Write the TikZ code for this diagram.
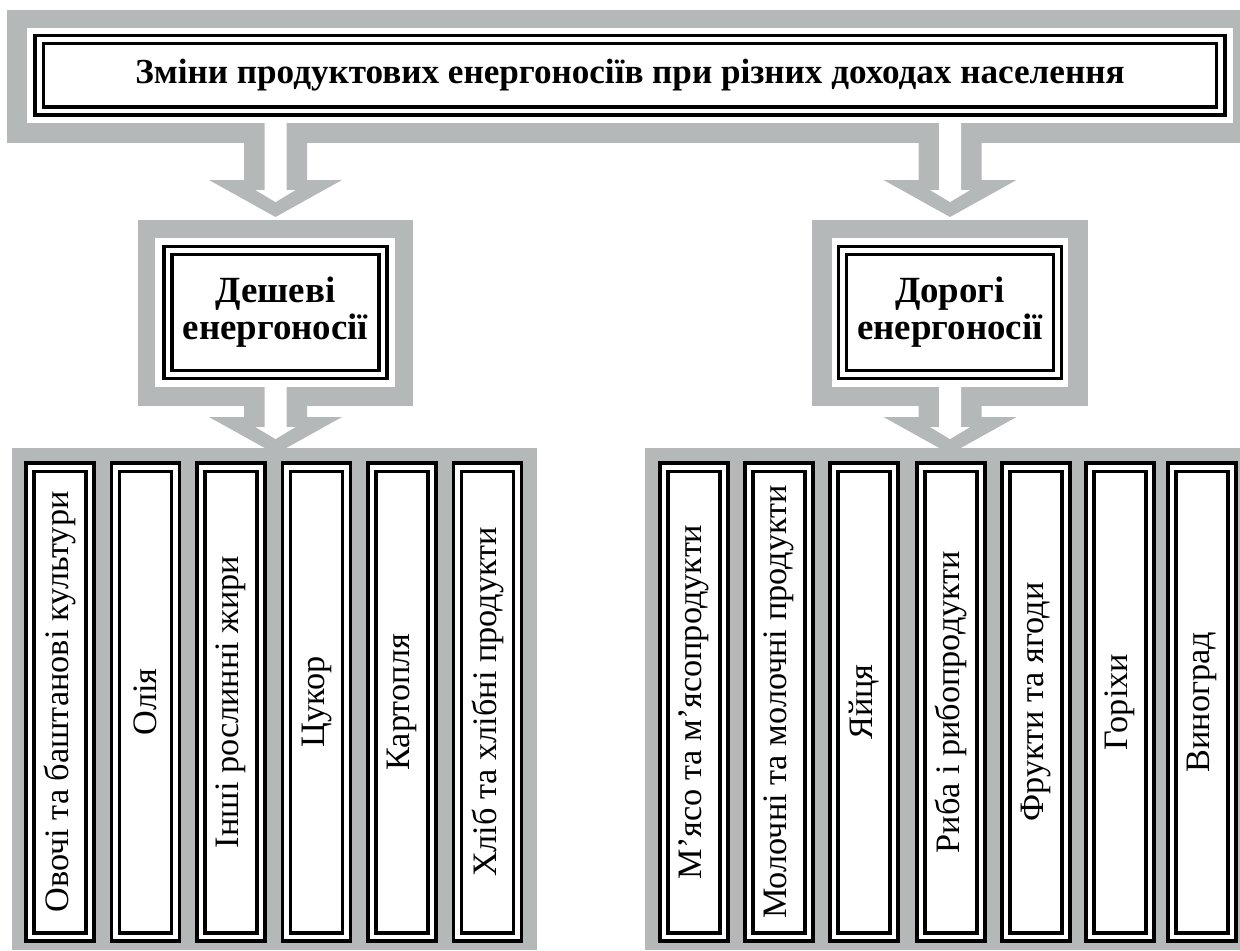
\documentclass[tikz,border=0pt]{standalone}
\usepackage{fontspec}
\setmainfont{Liberation Serif}
\usepackage{tikz}
\usetikzlibrary{backgrounds}
\definecolor{framegray}{RGB}{181,184,184}
\tikzset{
  dbl/.style={draw, fill=white, line width=1.9pt, double=white, double distance=2.8pt, inner sep=0pt},
  headbox/.style={dbl, minimum width=23.64cm, minimum height=1.43cm, font=\fontsize{20}{22}\selectfont\bfseries},
  groupbox/.style={dbl, minimum width=4.3cm, minimum height=2.48cm, align=center, font=\fontsize{21}{21}\selectfont\bfseries},
  itembox/.style={dbl, rotate=90, minimum width=9.4cm, minimum height=1.2cm, font=\fontsize{19.5}{22}\selectfont},
  fatarrow/.pic={
    \fill[framegray] (-31.5,0) -- (-31.5,#1) -- (-66.5,#1) -- (0,#1+37) -- (66.5,#1) -- (31.5,#1) -- (31.5,0) -- cycle;
    \fill[white] (-11,-20) -- (-11,#1+10) -- (-20,#1+10) -- (0,#1+22) -- (20,#1+10) -- (11,#1+10) -- (11,-20) -- cycle;
  }
}
\begin{document}
\begin{tikzpicture}[x=0.02cm, y=-0.02cm]
\useasboundingbox (0,0) rectangle (1240,950);

\node[headbox] (title) at (630,75.25) {Зміни продуктових енергоносіїв при різних доходах населення};

\node[groupbox] (cheap) at (275.5,312.5) {Дешеві\\енергоносії};
\node[groupbox] (dear) at (950,312.5) {Дорогі\\енергоносії};

% cheap products
\node[itembox] (veg) at (60,702) {Овочі та баштанові культури};
\node[itembox] (oil) at (145.5,702) {Олія};
\node[itembox] (fat) at (231,702) {Інші рослинні жири};
\node[itembox] (sugar) at (316.5,702) {Цукор};
\node[itembox] (potato) at (402,702) {Картопля};
\node[itembox] (bread) at (487.5,702) {Хліб та хлібні продукти};

% dear products
\node[itembox] (meat) at (694,702) {М'ясо та м'ясопродукти};
\node[itembox] (milk) at (779,702) {Молочні та молочні продукти};
\node[itembox] (eggs) at (864,702) {Яйця};
\node[itembox] (fish) at (951,702) {Риба і рибопродукти};
\node[itembox] (fruit) at (1036,702) {Фрукти та ягоди};
\node[itembox] (nuts) at (1120,702) {Горіхи};
\node[itembox] (grape) at (1202,702) {Виноград};

\begin{scope}[on background layer]
  \fill[framegray] (7,10) rectangle (1240,143);
  \fill[white] (27,28) rectangle (1233,123);
  \fill[framegray] (138,220) rectangle (413,406);
  \fill[white] (155,238) rectangle (395,387);
  \fill[framegray] (812,220) rectangle (1088,406);
  \fill[white] (832,238) rectangle (1068,387);
  \fill[framegray] (12,448) rectangle (537,950);
  \fill[framegray] (645,448) rectangle (1240,950);
  \pic at (cheap.center |- 0,143) {fatarrow=37};
  \pic at (dear.center |- 0,143) {fatarrow=37};
  \pic at (cheap.center |- 0,406) {fatarrow=11};
  \pic at (dear.center |- 0,406) {fatarrow=11};
\end{scope}
\end{tikzpicture}
\end{document}
